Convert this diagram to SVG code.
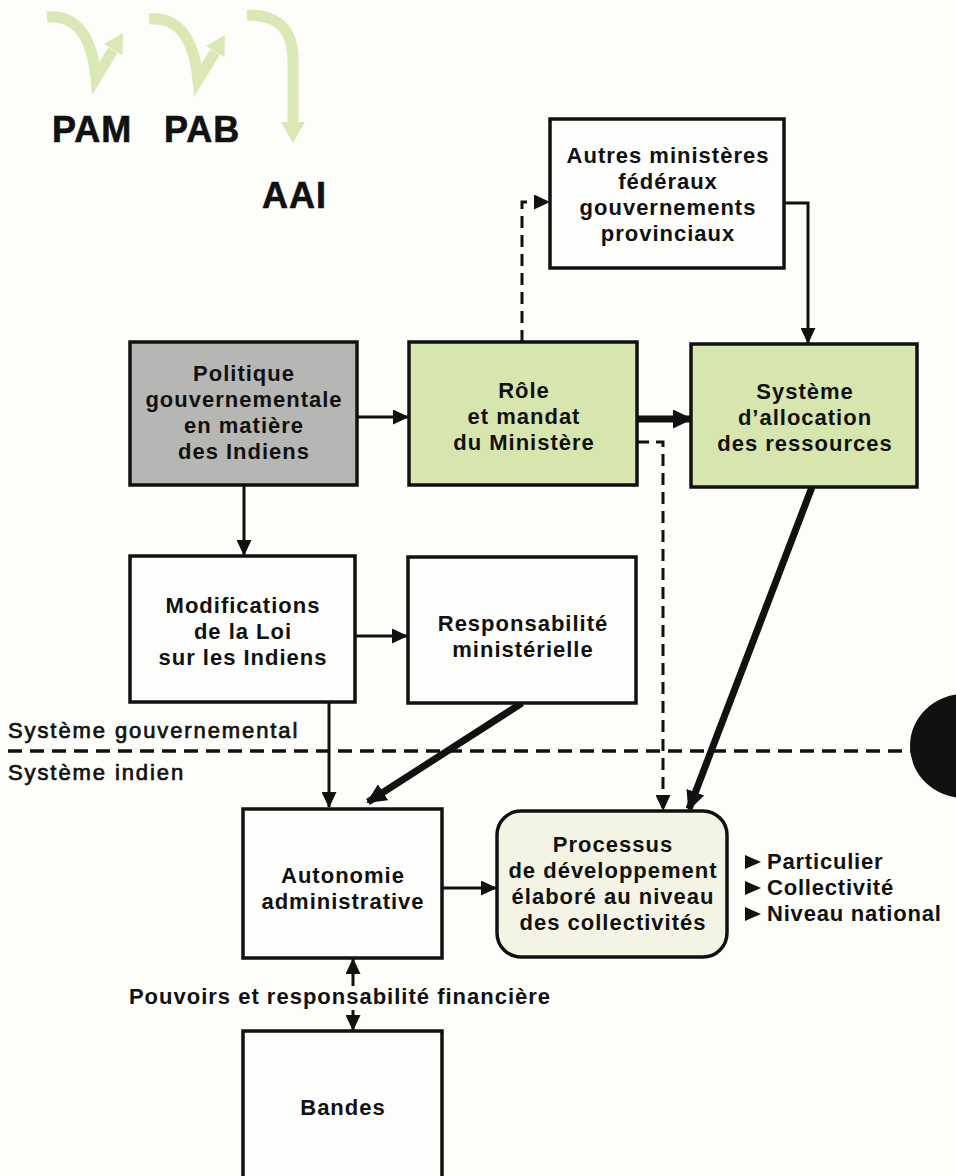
<svg xmlns="http://www.w3.org/2000/svg" width="956" height="1176" viewBox="0 0 956 1176">
<defs>
<style>
.box{stroke:#111;stroke-width:3.5}
.w{fill:#fdfdfb}
.g{fill:#b6b6b4}
.gr{fill:#d7e6ae}
.cr{fill:#f3f4e4}
.t{font-family:"Liberation Sans",Arial,sans-serif;font-weight:bold;font-size:22px;letter-spacing:1px;fill:#111;text-anchor:middle}
.tl{font-family:"Liberation Sans",Arial,sans-serif;font-weight:bold;font-size:22px;letter-spacing:0.8px;fill:#111}
.side{font-family:"Liberation Sans",Arial,sans-serif;font-size:22px;letter-spacing:1.9px;fill:#111;stroke:#111;stroke-width:0.7}
.big{font-family:"Liberation Sans",Arial,sans-serif;font-weight:bold;font-size:36px;letter-spacing:1px;fill:#111;stroke:#111;stroke-width:0.6}
.c{fill:none;stroke:#111;stroke-width:3}
.k{fill:none;stroke:#111;stroke-width:7}
.d{fill:none;stroke:#111;stroke-width:3;stroke-dasharray:12 7}
.ga{fill:none;stroke:#d9e8b4;stroke-width:11}
</style>
<marker id="ah" markerUnits="userSpaceOnUse" markerWidth="16" markerHeight="15" refX="15" refY="7.5" orient="auto">
<path d="M0,0 L16,7.5 L0,15 z" fill="#111"/>
</marker>
<marker id="ahb" markerUnits="userSpaceOnUse" markerWidth="20" markerHeight="19" refX="18" refY="9.5" orient="auto">
<path d="M0,0 L20,9.5 L0,19 z" fill="#111"/>
</marker>
</defs>
<rect width="956" height="1176" fill="#fdfdf9"/>

<g id="logo">
<path class="ga" d="M47,17 C75,14 92,35 96,78 L113,50"/>
<polygon points="123,33 122.5,55 104,44" fill="#d9e8b4"/>
<path class="ga" d="M149,19 C177,16 194,37 198,80 L215,52"/>
<polygon points="225,35 224.5,57 206,46" fill="#d9e8b4"/>
<path class="ga" d="M247,15 C282,15 293,33 293,60 V124"/>
<polygon points="281,122 305,122 293,143" fill="#d9e8b4"/>
<text class="big" x="52" y="142">PAM</text>
<text class="big" x="164" y="142">PAB</text>
<text class="big" x="262" y="208">AAI</text>
</g>

<g id="separator">
<path d="M8,751 H912" fill="none" stroke="#111" stroke-width="3.5" stroke-dasharray="14 8"/>
<ellipse cx="964" cy="746" rx="54" ry="52" fill="#111"/>
<text class="side" x="8" y="738">Système gouvernemental</text>
<text class="side" x="8" y="780">Système indien</text>
</g>

<g id="connectors">
<path class="c" d="M357,417 H408" marker-end="url(#ah)"/>
<path class="c" d="M244,485 V555" marker-end="url(#ah)"/>
<path class="k" d="M637,419 H691" marker-end="url(#ahb)"/>
<path class="d" d="M522,342 V202 H549" marker-end="url(#ah)"/>
<path class="c" d="M784,203 H808 V343" marker-end="url(#ah)"/>
<path class="d" d="M637,442 H663 V810" marker-end="url(#ah)"/>
<path class="k" d="M812,487 L689,809" marker-end="url(#ahb)"/>
<path class="c" d="M355,636 H407" marker-end="url(#ah)"/>
<path class="c" d="M329,702 V807" marker-end="url(#ah)"/>
<path class="k" d="M522,703 L368,802" marker-end="url(#ahb)"/>
<path class="c" d="M442,888 H496" marker-end="url(#ah)"/>
<path class="c" d="M353,986 V959" marker-end="url(#ah)"/>
<path class="c" d="M353,1010 V1030" marker-end="url(#ah)"/>
</g>

<g id="politique">
<rect class="box g" x="130" y="342" width="227" height="143"/>
<text class="t" x="244" y="381">Politique</text>
<text class="t" x="244" y="407">gouvernementale</text>
<text class="t" x="244" y="433">en matière</text>
<text class="t" x="244" y="459">des Indiens</text>
</g>

<g id="role">
<rect class="box gr" x="409" y="342" width="228" height="143"/>
<text class="t" x="524" y="398">Rôle</text>
<text class="t" x="524" y="424">et mandat</text>
<text class="t" x="524" y="450">du Ministère</text>
</g>

<g id="autres">
<rect class="box w" x="550" y="119" width="234" height="149"/>
<text class="t" x="668" y="163">Autres ministères</text>
<text class="t" x="668" y="189">fédéraux</text>
<text class="t" x="668" y="215">gouvernements</text>
<text class="t" x="668" y="241">provinciaux</text>
</g>

<g id="systeme">
<rect class="box gr" x="691" y="344" width="226" height="143"/>
<text class="t" x="805" y="399">Système</text>
<text class="t" x="805" y="425">d’allocation</text>
<text class="t" x="805" y="451">des ressources</text>
</g>

<g id="modifications">
<rect class="box w" x="130" y="556" width="225" height="146"/>
<text class="t" x="243" y="613">Modifications</text>
<text class="t" x="243" y="639">de la Loi</text>
<text class="t" x="243" y="665">sur les Indiens</text>
</g>

<g id="responsabilite">
<rect class="box w" x="408" y="557" width="228" height="146"/>
<text class="t" x="523" y="631">Responsabilité</text>
<text class="t" x="523" y="657">ministérielle</text>
</g>

<g id="autonomie">
<rect class="box w" x="243" y="809" width="199" height="149"/>
<text class="t" x="343" y="883">Autonomie</text>
<text class="t" x="343" y="909">administrative</text>
</g>

<g id="processus">
<rect class="box cr" x="497" y="811" width="230" height="146" rx="24" ry="24"/>
<text class="t" x="613" y="852">Processus</text>
<text class="t" x="613" y="878">de développement</text>
<text class="t" x="613" y="904">élaboré au niveau</text>
<text class="t" x="613" y="930">des collectivités</text>
</g>

<g id="niveaux">
<polygon points="745,855 761,862 745,869" fill="#111"/>
<polygon points="745,881 761,888 745,895" fill="#111"/>
<polygon points="745,907 761,914 745,921" fill="#111"/>
<text class="tl" x="767" y="869">Particulier</text>
<text class="tl" x="767" y="895">Collectivité</text>
<text class="tl" x="767" y="921">Niveau national</text>
</g>

<g id="pouvoirs">
<text class="t" x="340" y="1004">Pouvoirs et responsabilité financière</text>
</g>

<g id="bandes">
<rect class="box w" x="243" y="1031" width="199" height="160"/>
<text class="t" x="343" y="1115">Bandes</text>
</g>
</svg>
